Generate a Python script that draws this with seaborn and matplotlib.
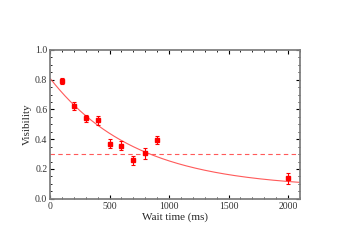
import numpy as np
import pandas as pd
import matplotlib
matplotlib.use("Agg")
import matplotlib.pyplot as plt
from matplotlib.ticker import MultipleLocator
import seaborn as sns

# measured visibility vs wait time
wait_ms = [100, 200, 300, 400, 500, 600, 700, 800, 900, 2000]
visibility = [0.79, 0.625, 0.54, 0.527, 0.37, 0.355, 0.26, 0.305, 0.395, 0.137]
vis_err = [0.02, 0.025, 0.025, 0.03, 0.03, 0.03, 0.03, 0.035, 0.025, 0.035]

# exponential fit parameters (amplitude, decay, offset) and threshold
fit_amp = 0.74
fit_tau = 720.0
fit_offset = 0.07
threshold = 0.3

df = pd.DataFrame({"wait": wait_ms, "vis": visibility, "err": vis_err})
t_fit = np.linspace(0, 2100, 300)
fit_df = pd.DataFrame({"wait": t_fit, "vis": fit_amp * np.exp(-t_fit / fit_tau) + fit_offset})

sns.set_style("ticks")
plt.rcParams["font.family"] = ["Liberation Serif", "DejaVu Serif"]

fig, ax = plt.subplots(figsize=(3.5, 2.5), dpi=100)
fig.subplots_adjust(left=0.143, right=0.857, bottom=0.205, top=0.8)

sns.lineplot(data=fit_df, x="wait", y="vis", ax=ax, color="#ff5a5a", linewidth=0.8)
ax.axhline(threshold, color="#ff5a5a", linestyle="--", linewidth=0.8, dashes=(4, 3))
ax.errorbar(df["wait"], df["vis"], yerr=df["err"], fmt="s", color="red",
            markersize=3.3, capsize=1.5, elinewidth=0.8, capthick=0.8)

ax.set_xlim(0, 2100)
ax.set_ylim(0, 1.0)
ax.xaxis.set_major_locator(MultipleLocator(500))
ax.xaxis.set_minor_locator(MultipleLocator(100))
ax.yaxis.set_major_locator(MultipleLocator(0.2))
ax.yaxis.set_minor_locator(MultipleLocator(0.05))
ax.yaxis.set_major_formatter(matplotlib.ticker.FormatStrFormatter("%.1f"))

for s in ax.spines.values():
    s.set_color("#808080")
    s.set_linewidth(1.3)
ax.tick_params(which="both", direction="in", top=True, right=True, color="black",
               labelsize=7, pad=2, labelcolor="#333333")
ax.tick_params(which="major", length=3, width=0.8)
ax.tick_params(which="minor", length=1.5, width=0.6)

ax.set_xlabel("Wait time (ms)", fontsize=8, labelpad=1)
ax.set_ylabel("Visibility", fontsize=8, labelpad=2)

fig.savefig("out.png", dpi=100)
